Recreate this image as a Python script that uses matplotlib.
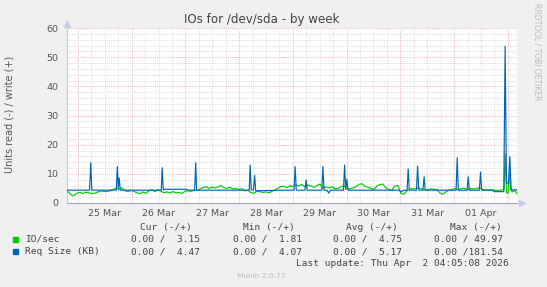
"""
Munin style weekly IO chart for /dev/sda
"""

import numpy as np
from matplotlib import pyplot as plt

# hours relative to 25 Mar 00:00
IO_HOURS = [-4.9, -4.0, -3.1, -2.2, -1.3, -0.4, 0.9, 2.2, 3.6, 4.9, 6.3, 7.6, 8.9, 10.3, 11.6, 12.9,
            14.3, 15.6, 17.0, 18.3, 19.6, 21.0, 22.3, 23.7, 25.0, 26.3, 27.7, 29.0, 30.4, 31.7, 33.0,
            34.4, 35.7, 37.1, 38.4, 39.7, 41.1, 42.4, 43.8, 45.1, 46.4, 47.8, 49.1, 50.5, 51.8, 53.1,
            54.5, 55.8, 57.2, 58.5, 59.8, 61.2, 62.5, 63.9, 65.2, 66.5, 67.9, 69.2, 70.5, 71.9, 73.2,
            74.6, 75.9, 77.2, 78.6, 79.9, 81.3, 82.6, 83.9, 85.3, 86.6, 88.0, 89.3, 90.6, 92.0, 93.3,
            94.7, 96.0, 97.3, 98.7, 100.0, 101.4, 102.7, 104.0, 105.4, 106.7, 108.1, 109.4, 110.7,
            112.1, 113.4, 114.8, 116.1, 117.4, 118.8, 120.1, 121.5, 122.8, 124.1, 125.5, 126.8, 128.1,
            129.5, 130.8, 132.2, 133.5, 134.8, 136.2, 137.5, 138.9, 140.2, 141.5, 142.9, 144.2, 145.6,
            146.9, 148.2, 149.6, 150.9, 152.3, 153.6, 154.9, 156.3, 157.6, 159.0, 160.3, 161.6, 163.0,
            164.3, 165.7, 167.0, 168.3, 169.7, 171.0, 172.4, 173.7, 175.0, 176.4, 177.7, 179.1, 180.4,
            181.7, 183.1, 184.4, 185.8, 187.1, 188.4, 189.8, 190.3, 190.8, 191.4, 192.1, 192.7, 193.3,
            194.2, 195.1, 196.1]
IO_VALUES = [4.0, 3.6, 2.8, 2.4, 2.9, 3.4, 3.6, 3.3, 3.7, 3.5, 3.2, 3.4, 3.8, 4.1, 4.0, 3.9,
             4.2, 4.7, 5.0, 4.6, 5.2, 4.2, 3.9, 4.3, 4.0, 3.5, 3.2, 3.8, 3.3, 4.2, 4.5,
             3.9, 4.6, 4.0, 3.5, 3.8, 3.4, 3.9, 3.5, 3.6, 3.3, 4.0, 4.2, 4.0, 4.4, 4.3,
             4.8, 5.3, 5.6, 5.0, 5.4, 5.2, 5.5, 6.0, 5.2, 5.0, 5.4, 4.8, 5.0, 4.6, 4.9,
             4.2, 4.4, 3.6, 3.3, 4.0, 3.9, 3.6, 3.8, 3.5, 4.0, 4.5, 5.0, 5.6, 5.8, 5.2,
             6.0, 5.6, 6.3, 5.8, 6.4, 5.5, 6.2, 5.8, 5.4, 6.0, 6.5, 5.0, 5.5,
             5.2, 5.6, 4.9, 5.0, 5.5, 6.0, 5.0, 4.8, 5.2, 5.5, 6.4, 6.6, 5.8,
             5.4, 5.0, 4.6, 5.8, 6.3, 6.5, 5.2, 4.6, 4.3, 5.8, 6.0, 3.3, 3.0,
             4.2, 4.8, 5.0, 4.8, 5.2, 4.8, 4.5, 4.6, 4.9, 4.7, 4.6, 3.5, 3.0,
             3.8, 4.4, 4.6, 5.0, 4.5, 4.9, 5.1, 4.6, 5.0, 4.8, 4.9, 5.2, 4.8,
             4.5, 4.4, 4.6, 4.5, 4.2, 4.4, 4.5, 4.6, 17.0, 3.5, 3.3, 10.0, 4.5,
             3.8, 4.4, 3.1]

REQ_HOURS = [-4.9, 5.2, 5.7, 6.2, 17.1, 17.6, 18.0, 18.4, 18.9, 37.2, 37.6, 38.1, 38.5, 48.5, 49.0,
             52.1, 52.6, 53.0, 76.5, 76.9, 77.4, 78.4, 78.9, 79.4, 92.0, 96.5, 97.0, 97.5,
             101.4, 101.9, 102.4, 108.9, 109.4, 109.9, 111.2, 112.0, 112.8, 118.6, 119.1, 119.6,
             120.1, 120.6, 143.5, 144.5, 145.5, 147.0, 147.5, 148.0, 151.2, 151.7, 152.2, 154.1, 154.6,
             155.1, 168.9, 169.4, 169.9, 173.8, 174.3, 174.8, 179.3, 179.8, 180.3, 185.0, 186.0,
             190.2, 190.8, 191.4, 192.3, 192.9, 193.5, 194.0, 196.1]
REQ_VALUES = [4.4, 4.4, 13.8, 4.4, 4.4, 12.5, 5.0, 8.6, 4.4, 4.4, 12.1, 4.4, 4.7, 4.7, 4.4,
              4.4, 13.8, 4.4, 4.4, 13.0, 4.5, 4.5, 9.4, 4.2, 4.4, 4.4, 12.5, 4.4,
              4.4, 7.9, 4.4, 4.4, 12.5, 4.4, 4.4, 3.4, 4.4, 4.4, 13.0, 4.6,
              8.1, 4.4, 4.4, 3.9, 4.4, 4.4, 11.7, 4.4, 4.4, 12.7, 4.4, 4.4, 9.0,
              4.4, 4.4, 15.5, 4.4, 4.4, 9.0, 4.4, 4.4, 10.6, 4.4, 4.4, 3.9,
              3.9, 53.8, 6.8, 6.8, 15.9, 4.6, 4.5, 4.5]

DAY_LABELS = ["25 Mar", "26 Mar", "27 Mar", "28 Mar", "29 Mar", "30 Mar", "31 Mar", "01 Apr"]
X_START, X_END = -4.9, 196.1

LEGEND_NAMES = ["IO/sec", "Req Size (KB)"]
LEGEND_COLORS = ["#00CC00", "#0066B3"]
HEADERS = ["Cur (-/+)", "Min (-/+)", "Avg (-/+)", "Max (-/+)"]
STATS = [["0.00 /  3.15", "0.00 /  1.81", "0.00 /  4.75", "0.00 / 49.97"],
         ["0.00 /  4.47", "0.00 /  4.07", "0.00 /  5.17", "0.00 /181.54"]]

W, H = 547, 287
MONO = "DejaVu Sans Mono"


def px(x):
    return x / W


def py(y):
    return 1 - y / H


fig = plt.figure(figsize=(W / 100, H / 100), dpi=100, facecolor="#F0F0F0")
ax = fig.add_axes([px(67), py(203), px(450), 175 / H])
ax.set_facecolor("white")
ax.set_xlim(X_START, X_END)
ax.set_ylim(0, 60)

# grid
for h in range(0, 200, 6):
    if X_START < h < X_END:
        c = "#E8A0A0" if h % 24 == 0 else "#D0D0D0"
        ax.axvline(h, color=c, lw=0.6, ls=(0, (1, 1.5)), zorder=0)
for v in range(2, 61, 2):
    c = "#E8A0A0" if v % 10 == 0 else "#D0D0D0"
    ax.axhline(v, color=c, lw=0.6, ls=(0, (1, 1.5)), zorder=0)

ax.plot(IO_HOURS, IO_VALUES, color=LEGEND_COLORS[0], lw=0.85, zorder=3)
ax.plot(REQ_HOURS, REQ_VALUES, color=LEGEND_COLORS[1], lw=0.85, zorder=4)

ax.set_xticks(np.arange(12, 12 + 24 * len(DAY_LABELS), 24))
ax.set_xticklabels(DAY_LABELS)
ax.set_yticks(np.arange(0, 61, 10))
ax.tick_params(length=0, labelsize=6.8, colors="#555555")
ax.tick_params(axis="x", pad=4)
ax.tick_params(axis="y", pad=6)
for s in ["top", "right"]:
    ax.spines[s].set_visible(False)
ax.spines["left"].set_color("#C8C8E8")
ax.spines["bottom"].set_color("#A8A0C0")
ax.spines["left"].set_linewidth(0.8)
ax.spines["bottom"].set_linewidth(0.8)
ax.plot(0, 1.025, marker="^", ms=4, color="#C8C8F0", transform=ax.transAxes, clip_on=False)
ax.plot(1.011, 0, marker=">", ms=4, color="#C8C8F0", transform=ax.transAxes, clip_on=False)

fig.text(px(262), py(19), "IOs for /dev/sda - by week", ha="center", va="center",
         fontsize=8.6, color="#444444")
fig.text(px(10), py(114), "Units read (-) / write (+)", rotation=90, ha="center", va="center",
         fontsize=7, color="#555555")
fig.text(px(537), py(52), "RRDTOOL / TOBI OETIKER", rotation=270, ha="center", va="center",
         fontsize=5.5, color="#BBBBBB")

# legend
header_x = [192, 295, 398, 502]
stat_x = [200, 302, 402, 503]
for x, t in zip(header_x, HEADERS):
    fig.text(px(x), py(227.5), t, ha="right", va="center", family=MONO, fontsize=6.8,
             color="#444444")
for row, (name, color) in enumerate(zip(LEGEND_NAMES, LEGEND_COLORS)):
    y = 239.5 + row * 12.3
    fig.patches.append(plt.Rectangle((px(13), py(y + 2.5)), px(5), 5 / H, color=color,
                                     transform=fig.transFigure))
    fig.text(px(25), py(y), name, ha="left", va="center", family=MONO, fontsize=6.8,
             color="#444444")
    for x, t in zip(stat_x, STATS[row]):
        fig.text(px(x), py(y), t, ha="right", va="center", family=MONO, fontsize=6.8,
                 color="#444444")
fig.text(px(509), py(264), "Last update: Thu Apr  2 04:05:08 2026", ha="right", va="center",
         family=MONO, fontsize=6.8, color="#444444")
fig.text(px(261), py(276.5), "Munin 2.0.73", ha="center", va="center", fontsize=5.3,
         color="#BBBBBB")

fig.savefig("out.png", dpi=100, facecolor=fig.get_facecolor())
